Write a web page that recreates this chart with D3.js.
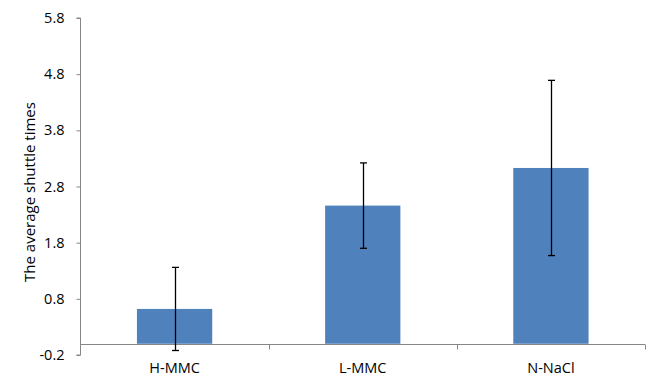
<!DOCTYPE html>
<html><head><meta charset="utf-8">
<script src="https://cdn.jsdelivr.net/npm/d3@7"></script>
<style>body{margin:0;background:#fff;} text{font-family:"Open Sans",sans-serif;fill:#000;}</style>
</head><body><svg id="c" width="646" height="379"></svg>
<script>
const categories = ["H-MMC", "L-MMC", "N-NaCl"];
const values = [0.62, 2.46, 3.13];
const errors = [0.74, 0.76, 1.56];
const yTicks = [-0.2, 0.8, 1.8, 2.8, 3.8, 4.8, 5.8];

(function () {
const svg = d3.select("#c");
const mLeft = 80.5, mRight = 645, mTop = 18, mBottom = 355;
const fs = "14.5px";
const x = d3.scaleBand().domain(categories).range([mLeft, mRight]).padding(0);
const y = d3.scaleLinear().domain([-0.2, 5.8]).range([mBottom, mTop]);
const axisColor = "#868686";

// y axis
const ya = svg.append("g").attr("transform", `translate(${mLeft},0)`)
  .call(d3.axisLeft(y).tickValues(yTicks).tickSize(4).tickPadding(12).tickFormat(d => d.toFixed(1)));
ya.select(".domain").attr("stroke", axisColor).attr("d", `M-4,${y(5.8)}H0V${y(-0.2)}H-4`);
ya.selectAll(".tick line").attr("stroke", axisColor);
ya.selectAll(".tick text").style("font-size", fs).style("font-family", "Open Sans").attr("fill", "#000");

// bars
const bw = x.bandwidth() * 0.4;
svg.selectAll(".bar").data(categories).enter().append("rect")
  .attr("x", d => x(d) + x.bandwidth() / 2 - bw / 2)
  .attr("width", bw)
  .attr("y", (d, i) => y(values[i]))
  .attr("height", (d, i) => y(0) - y(values[i]))
  .attr("fill", "#4F81BD");

// x axis at 0
const y0 = Math.round(y(0)) + 0.5;
svg.append("line").attr("x1", mLeft).attr("x2", mRight).attr("y1", y0).attr("y2", y0).attr("stroke", axisColor);
categories.forEach((c, i) => {
  const bx = Math.round(x(c) + x.bandwidth()) + 0.5;
  svg.append("line").attr("x1", bx).attr("x2", bx).attr("y1", y0).attr("y2", y0 + 5).attr("stroke", axisColor);
});
svg.selectAll(".xl").data(categories).enter().append("text")
  .attr("x", d => x(d) + x.bandwidth() / 2).attr("y", 373)
  .attr("text-anchor", "middle").style("font-size", fs).text(d => d);

// error bars
const g = svg.selectAll(".err").data(categories).enter().append("g");
g.append("line")
  .attr("x1", d => Math.round(x(d) + x.bandwidth() / 2) + 0.5)
  .attr("x2", d => Math.round(x(d) + x.bandwidth() / 2) + 0.5)
  .attr("y1", (d, i) => y(values[i] + errors[i]))
  .attr("y2", (d, i) => y(values[i] - errors[i]))
  .attr("stroke", "#000").attr("stroke-width", 1.3);
[1, -1].forEach(s => {
  g.append("line")
    .attr("x1", d => Math.round(x(d) + x.bandwidth() / 2) + 0.5 - 3.5)
    .attr("x2", d => Math.round(x(d) + x.bandwidth() / 2) + 0.5 + 3.5)
    .attr("y1", (d, i) => y(values[i] + s * errors[i]))
    .attr("y2", (d, i) => y(values[i] + s * errors[i]))
    .attr("stroke", "#000").attr("stroke-width", 1.3);
});

// y label
svg.append("text").attr("transform", `translate(35,192) rotate(-90)`)
  .attr("text-anchor", "middle").style("font-size", "15px").text("The average shuttle times");
})();
</script></body></html>
